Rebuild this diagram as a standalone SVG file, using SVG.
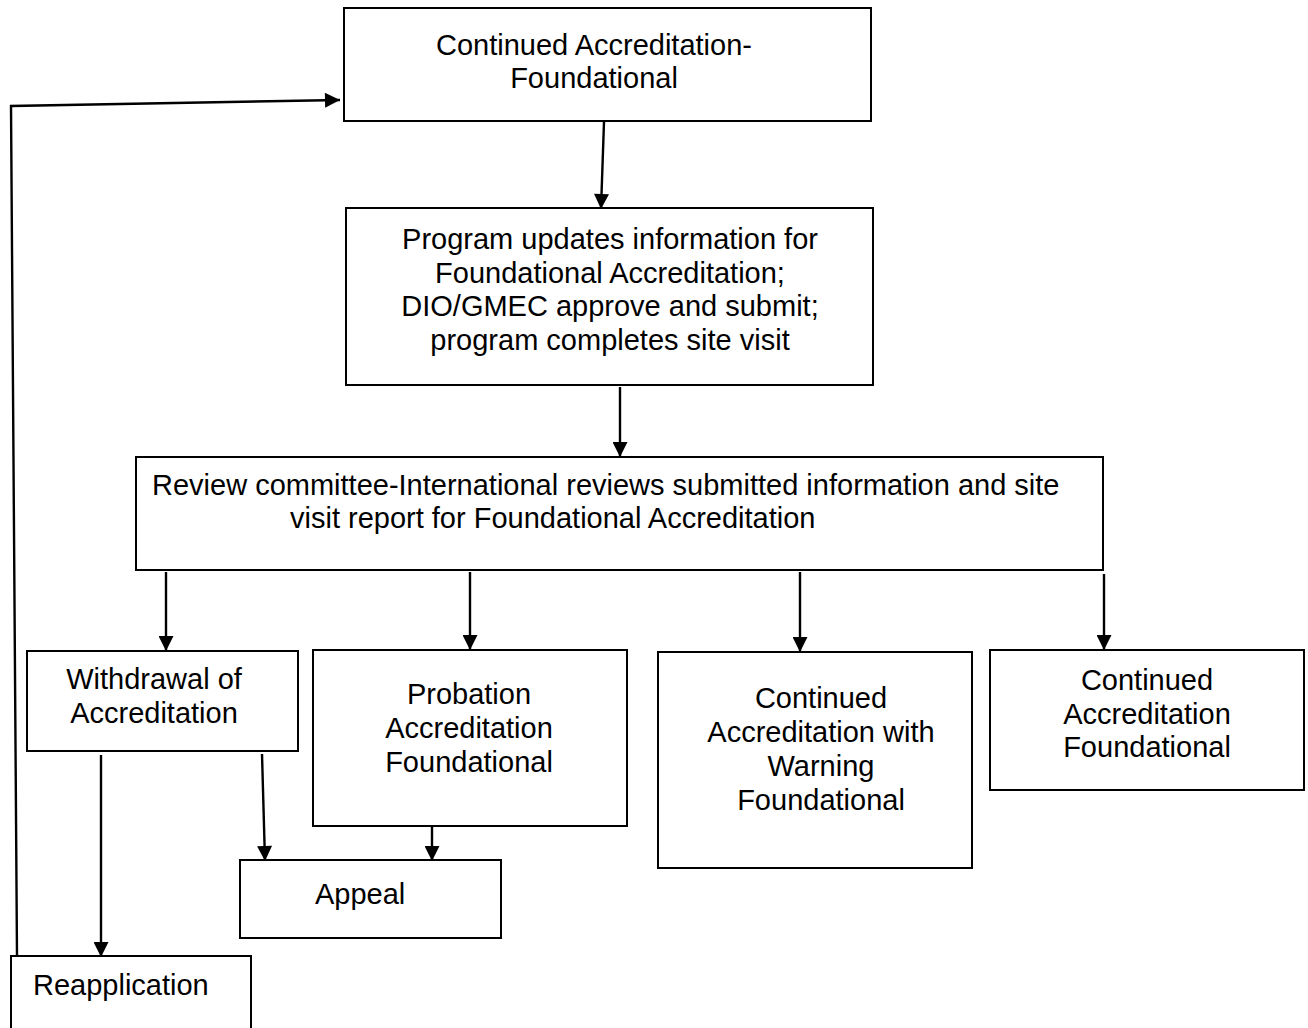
<svg xmlns="http://www.w3.org/2000/svg" width="1308" height="1028" viewBox="0 0 1308 1028">
<defs>
<marker id="ah" viewBox="0 0 10 10" refX="10" refY="5" markerWidth="17" markerHeight="15" markerUnits="userSpaceOnUse" orient="auto">
<path d="M0,0 L10,5 L0,10 z" fill="#000"/>
</marker>
<style>
.box{fill:#fff;stroke:#000;stroke-width:2}
.t{font-family:"Liberation Sans",Arial,sans-serif;font-size:29px;fill:#000}
.c{text-anchor:middle}
.e{fill:none;stroke:#000;stroke-width:2.4;marker-end:url(#ah)}
</style>
</defs>
<rect width="1308" height="1028" fill="#fff"/>
<g id="connectors">
<path class="e" d="M604,122 L601,209"/>
<path class="e" d="M620,387 L620,457"/>
<path class="e" d="M166,572 L166,651"/>
<path class="e" d="M470,572 L470,650"/>
<path class="e" d="M800,572 L800,652"/>
<path class="e" d="M1104,574 L1104,650"/>
<path class="e" d="M101,755 L101,957"/>
<path class="e" d="M262,754 L265,861"/>
<path class="e" d="M432,827 L432,861"/>
<path class="e" d="M17,956 L11,106 L340,100"/>
</g>
<g id="n1">
<rect class="box" x="344" y="8" width="527" height="113"/>
<text class="t c" x="594" y="55">Continued Accreditation-</text>
<text class="t c" x="594" y="88">Foundational</text>
</g>
<g id="n2">
<rect class="box" x="346" y="208" width="527" height="177"/>
<text class="t c" x="610" y="249">Program updates information for</text>
<text class="t c" x="610" y="283">Foundational Accreditation;</text>
<text class="t c" x="610" y="316">DIO/GMEC approve and submit;</text>
<text class="t c" x="610" y="350">program completes site visit</text>
</g>
<g id="n3">
<rect class="box" x="136" y="457" width="967" height="113"/>
<text class="t" x="152" y="495">Review committee-International reviews submitted information and site</text>
<text class="t" x="290" y="528">visit report for Foundational Accreditation</text>
</g>
<g id="n4">
<rect class="box" x="27" y="651" width="271" height="100"/>
<text class="t c" x="154" y="689">Withdrawal of</text>
<text class="t c" x="154" y="723">Accreditation</text>
</g>
<g id="n5">
<rect class="box" x="313" y="650" width="314" height="176"/>
<text class="t c" x="469" y="704">Probation</text>
<text class="t c" x="469" y="738">Accreditation</text>
<text class="t c" x="469" y="772">Foundational</text>
</g>
<g id="n6">
<rect class="box" x="658" y="652" width="314" height="216"/>
<text class="t c" x="821" y="708">Continued</text>
<text class="t c" x="821" y="742">Accreditation with</text>
<text class="t c" x="821" y="776">Warning</text>
<text class="t c" x="821" y="810">Foundational</text>
</g>
<g id="n7">
<rect class="box" x="990" y="650" width="314" height="140"/>
<text class="t c" x="1147" y="690">Continued</text>
<text class="t c" x="1147" y="724">Accreditation</text>
<text class="t c" x="1147" y="757">Foundational</text>
</g>
<g id="n8">
<rect class="box" x="240" y="860" width="261" height="78"/>
<text class="t" x="315" y="904">Appeal</text>
</g>
<g id="n9">
<rect class="box" x="11" y="956" width="240" height="90"/>
<text class="t" x="33" y="995">Reapplication</text>
</g>
</svg>
